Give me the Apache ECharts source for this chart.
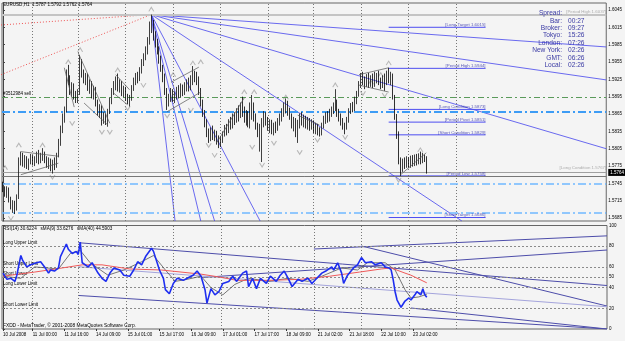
<!DOCTYPE html>
<html>
<head>
<meta charset="utf-8">
<script src="https://cdn.jsdelivr.net/npm/echarts@6/dist/echarts.min.js"></script>
<style>
  html, body { margin: 0; padding: 0; background: #f4f4f4; }
  #main { width: 625px; height: 341px; }
</style>
</head>
<body>
<div id="main"></div>
<script>
// EURUSD H1 bars, [open, close, low, high] in pips above 1.0000
const bars = [
  [5742,5736,5730,5748],[5736,5728,5722,5740],[5728,5735,5720,5740],[5735,5718,5712,5738],
  [5718,5705,5700,5722],[5705,5712,5694,5716],[5712,5700,5692,5715],[5700,5722,5698,5726],
  [5722,5785,5718,5790],[5785,5792,5776,5800],[5792,5780,5774,5798],[5780,5788,5772,5794],
  [5788,5776,5770,5792],[5776,5784,5768,5788],[5784,5790,5778,5796],[5790,5782,5776,5794],
  [5782,5788,5775,5792],[5788,5793,5780,5800],[5793,5784,5778,5803],[5784,5790,5780,5798],
  [5790,5796,5784,5806],[5796,5786,5780,5800],[5786,5778,5772,5792],[5778,5784,5770,5790],
  [5784,5774,5766,5788],[5774,5780,5762,5786],[5780,5776,5768,5790],[5776,5795,5772,5798],
  [5795,5815,5790,5822],[5815,5840,5810,5845],[5840,5855,5832,5866],[5855,5872,5850,5878],
  [5872,5935,5868,5942],[5935,5925,5915,5950],[5925,5905,5898,5932],[5905,5912,5895,5920],
  [5912,5896,5890,5918],[5896,5890,5884,5905],[5890,5900,5884,5908],[5900,5955,5898,5967],
  [5955,5935,5928,5960],[5935,5925,5918,5942],[5925,5930,5915,5936],[5930,5912,5905,5935],
  [5912,5918,5900,5925],[5918,5900,5892,5922],[5900,5908,5890,5914],[5908,5885,5878,5912],
  [5885,5870,5862,5890],[5870,5876,5858,5882],[5876,5852,5845,5880],[5852,5862,5848,5868],
  [5862,5855,5846,5866],[5855,5870,5843,5874],[5870,5888,5865,5893],[5888,5905,5882,5910],
  [5905,5915,5898,5922],[5915,5924,5906,5930],[5924,5910,5904,5935],[5910,5918,5902,5925],
  [5918,5902,5896,5922],[5902,5908,5894,5914],[5908,5895,5888,5912],[5895,5888,5882,5900],
  [5888,5893,5878,5898],[5893,5910,5888,5915],[5910,5922,5905,5928],[5922,5930,5915,5936],
  [5930,5926,5918,5938],[5926,5940,5922,5946],[5940,5955,5935,5960],[5955,5962,5948,5970],
  [5962,5975,5958,5982],[5975,5990,5968,5998],[5990,6015,5985,6025],[6015,6020,6005,6037],
  [6020,6000,5992,6028],[6000,5988,5980,6008],[5988,5975,5968,5995],[5975,5960,5952,5982],
  [5960,5945,5938,5966],[5945,5930,5920,5950],[5930,5905,5898,5935],[5905,5885,5872,5910],
  [5885,5895,5878,5900],[5895,5902,5886,5910],[5902,5892,5886,5908],[5892,5898,5884,5904],
  [5898,5906,5890,5912],[5906,5900,5892,5915],[5900,5910,5894,5918],[5910,5904,5896,5916],
  [5904,5912,5898,5920],[5912,5918,5904,5925],[5918,5910,5904,5928],[5910,5922,5906,5932],
  [5922,5935,5915,5948],[5935,5930,5920,5940],[5930,5925,5915,5938],[5925,5905,5898,5930],
  [5905,5885,5878,5910],[5885,5868,5860,5890],[5868,5850,5842,5872],[5850,5835,5825,5856],
  [5835,5822,5815,5840],[5822,5838,5818,5842],[5838,5826,5820,5845],[5826,5832,5818,5838],
  [5832,5818,5812,5836],[5818,5812,5806,5828],[5812,5822,5808,5826],[5822,5830,5815,5835],
  [5830,5840,5826,5846],[5840,5836,5828,5848],[5836,5850,5832,5856],[5850,5845,5838,5860],
  [5845,5860,5840,5866],[5860,5855,5846,5868],[5855,5868,5850,5875],[5868,5862,5852,5880],
  [5862,5876,5858,5885],[5876,5870,5860,5895],[5870,5858,5850,5878],[5858,5866,5845,5872],
  [5866,5852,5842,5870],[5852,5862,5840,5885],[5862,5878,5855,5898],[5878,5860,5852,5885],
  [5860,5845,5838,5866],[5845,5835,5825,5850],[5835,5840,5800,5848],[5840,5852,5782,5858],
  [5852,5862,5842,5870],[5862,5855,5845,5868],[5855,5842,5836,5860],[5842,5850,5832,5856],
  [5850,5838,5830,5855],[5838,5845,5828,5850],[5845,5840,5832,5852],[5840,5852,5836,5858],
  [5852,5860,5845,5866],[5860,5868,5852,5875],[5868,5875,5860,5885],[5875,5880,5866,5892],
  [5880,5870,5862,5888],[5870,5862,5855,5876],[5862,5848,5840,5866],[5848,5855,5835,5860],
  [5855,5842,5825,5858],[5842,5850,5815,5855],[5850,5860,5840,5866],[5860,5852,5845,5868],
  [5852,5858,5842,5864],[5858,5848,5840,5862],[5848,5855,5838,5860],[5855,5845,5836,5858],
  [5845,5850,5838,5856],[5850,5840,5832,5854],[5840,5845,5830,5850],[5845,5835,5828,5848],
  [5835,5832,5826,5842],[5832,5845,5828,5850],[5845,5855,5840,5862],[5855,5862,5848,5868],
  [5862,5858,5850,5870],[5858,5866,5852,5874],[5866,5872,5860,5878],[5872,5878,5865,5885],
  [5878,5885,5870,5908],[5885,5868,5860,5890],[5868,5860,5852,5874],[5860,5852,5845,5866],
  [5852,5845,5838,5858],[5845,5842,5830,5850],[5842,5855,5838,5860],[5855,5870,5850,5875],
  [5870,5878,5865,5884],[5878,5875,5868,5886],[5875,5888,5870,5895],[5888,5900,5882,5905],
  [5900,5915,5895,5922],[5915,5930,5910,5936],[5930,5922,5915,5938],[5922,5918,5908,5930],
  [5918,5928,5912,5934],[5928,5920,5910,5936],[5920,5926,5912,5932],[5926,5918,5910,5935],
  [5918,5925,5912,5938],[5925,5930,5918,5936],[5930,5922,5915,5940],[5922,5915,5908,5928],
  [5915,5926,5910,5932],[5926,5920,5905,5935],[5920,5932,5915,5940],[5932,5925,5918,5945],
  [5925,5930,5915,5938],[5930,5895,5890,5935],[5895,5860,5855,5898],[5860,5830,5822,5865],
  [5830,5785,5778,5835],[5785,5770,5758,5790],[5770,5782,5765,5788],[5782,5776,5770,5790],
  [5776,5785,5772,5792],[5785,5778,5772,5790],[5778,5786,5772,5793],[5786,5780,5774,5794],
  [5780,5788,5775,5795],[5788,5782,5776,5796],[5782,5790,5778,5797],[5790,5786,5778,5800],
  [5786,5790,5780,5798],[5790,5787,5782,5795],[5787,5764,5762,5792]
];

const timeLabels = ['10 Jul 2008', '11 Jul 00:00', '11 Jul 16:00', '14 Jul 09:00', '15 Jul 01:00',
  '15 Jul 17:00', '16 Jul 09:00', '17 Jul 01:00', '17 Jul 17:00', '18 Jul 09:00', '21 Jul 02:00',
  '21 Jul 18:00', '22 Jul 10:00', '23 Jul 02:00'];
const labelBars = [0, 15, 31, 47, 63, 79, 95, 111, 127, 143, 159, 175, 191, 207];
const dayStartBars = [15, 38, 62, 86, 110, 134, 157, 181, 205, 229];
const priceTicks = [1.6045, 1.6015, 1.5985, 1.5955, 1.5925, 1.5895, 1.5865, 1.5835, 1.5805,
  1.5775, 1.5745, 1.5715, 1.5685];
const rsiTicks = [100, 80, 60, 50, 40, 20, 0];

// RSI(14) and its averages, [bar, value]
const rsiPts = [[0,54],[2,48],[4,49],[6,46],[7,52],[9,71],[10,66],[12,60],[14,62],[17,64],[19,65],
  [21,60],[23,54],[24,57],[26,56],[28,59],[29,70],[31,78],[32,82],[33,77],[35,73],[37,75],[38,72],
  [39,84],[40,64],[43,60],[45,64],[48,54],[50,49],[52,46],[54,54],[56,59],[59,57],[61,52],[64,51],
  [66,57],[68,65],[70,62],[72,70],[75,78],[76,75],[79,57],[81,49],[82,38],[84,34],[86,44],[88,49],
  [91,47],[93,49],[96,52],[98,56],[100,51],[102,38],[103,25],[105,39],[107,33],[109,36],[111,44],
  [114,46],[116,51],[118,46],[121,54],[123,56],[124,41],[126,49],[128,39],[130,49],[133,44],
  [135,51],[138,46],[140,52],[142,56],[144,49],[146,41],[149,48],[151,46],[154,49],[156,44],
  [158,48],[161,54],[163,56],[166,60],[167,57],[169,64],[171,54],[172,44],[174,52],[177,59],
  [179,62],[181,69],[183,64],[186,65],[188,62],[191,64],[193,60],[195,59],[196,57],[197,48],
  [198,36],[199,28],[201,21],[203,27],[205,30],[206,28],[208,33],[209,36],[211,33],[212,39],
  [213,33],[214,30.6]];
const ma9Pts = [[0,51],[9,49],[16,60],[28,58],[34,73],[39,76],[44,64],[53,52],[61,57],[70,65],
  [76,71],[82,57],[87,46],[93,48],[100,51],[105,40],[111,33],[117,43],[124,49],[134,46],[144,49],
  [154,46],[161,51],[171,59],[179,57],[184,64],[193,64],[198,57],[203,38],[206,30],[210,31],[214,33.6]];
const ma40Pts = [[0,51],[16,55],[30,59],[40,62],[50,62],[64,58],[80,57],[100,53],[110,50],[118,47],
  [134,47],[150,48],[165,51],[180,55],[191,58],[196,59],[203,54],[206,52],[214,44.6]];
const rsiLevels = [80, 60, 50, 40, 20];
const rsiLevelNames = ['Long Upper Limit', 'Short Upper Limit', 'Short Lower', 'Long Lower Limit', 'Short Lower Limit'];
// trend lines drawn on the RSI window, [bar, value] ends
const rsiTrendLines = [
  [[38, 83.4], [305, 42]],
  [[38, 32.4], [305, 0]],
  [[157, 77.3], [305, 90]],
  [[100, 49.7], [305, 76.3]],
  [[181, 80.2], [305, 22.2]],
  [[206, 20.3], [305, 0]]
];
const rsiPaleLine = [[38, 60.2], [305, 21.5]];

// price pane objects
const apex = [75, 1.6037];
const fanEnds = [[305, 1.5981], [305, 1.5924], [305, 1.5805], [232, 1.568], [130, 1.568],
  [107, 1.568], [100, 1.568], [87, 1.568]];
const redStarts = [[-1, 1.6019], [-1, 1.5933]];
const levelNames = ['Long Target', 'Period High', 'Long Condition', 'Period Pivot',
  'Short Condition', 'Period Low', 'Short Target'];
const levelPrices = [1.6015, 1.5944, 1.5873, 1.5851, 1.5829, 1.5758, 1.5686];
const levelFrom = 195, levelTo = 244;
const patternLines = [
  [[9,5800],[28,5792]], [[9,5760],[28,5780]],
  [[31,5945],[36,5877]],
  [[38,5971],[54,5849]], [[41,5884],[53,5846]],
  [[57,5933],[64,5907]], [[56,5901],[63,5881]],
  [[85,5920],[99,5946]], [[83,5869],[100,5903]],
  [[108,5815],[122,5893]],
  [[149,5863],[160,5846]],
  [[180,5933],[195,5945]], [[180,5915],[195,5903]],
  [[201,5760],[214,5798]]
];
const fractalUp = [[1,5772],[8,5811],[20,5811],[33,5955],[39,5976],[58,5941],[75,6046],[86,5933],
  [96,5953],[100,5955],[122,5903],[127,5903],[143,5894],[168,5915],[186,5920],[191,5933],
  [195,5953],[211,5803]];
const fractalDown = [[4,5685],[25,5756],[35,5849],[50,5834],[54,5834],[63,5875],[71,5915],
  [83,5862],[95,5872],[104,5811],[107,5794],[126,5808],[131,5777],[137,5815],[150,5799],
  [159,5820],[173,5825],[182,5901],[193,5898],[200,5751]];

const P = v => 1 + v / 10000;
const FONT = 'Liberation Sans';

const chart = echarts.init(document.getElementById('main'));

function seg(pts, axis, color, width, type, z) {
  return {
    type: 'line', xAxisIndex: axis, yAxisIndex: axis, data: pts, symbol: 'none',
    silent: true, animation: false, z: z || 3,
    lineStyle: { color: color, width: width, type: type || 'solid' }
  };
}

const series = [];

// candles + horizontal lines
series.push({
  type: 'candlestick', xAxisIndex: 0, yAxisIndex: 0, silent: true, z: 5,
  data: bars.map((b, i) => [i, P(b[0]), P(b[1]), P(b[2]), P(b[3])]),
  encode: { x: 0, y: [1, 2, 3, 4] },
  barWidth: 1.3,
  itemStyle: { color: '#ffffff', color0: '#000000', borderColor: '#111', borderColor0: '#000', borderWidth: 0.8 },
  markLine: {
    silent: true, symbol: ['none', 'none'], animation: false, precision: 4,
    label: { show: false },
    data: [
      ...dayStartBars.map(b => ({ xAxis: b, lineStyle: { color: '#777', type: [1, 2], width: 1 } })),
      { yAxis: 1.6037, lineStyle: { color: '#c4c4c4', type: 'solid', width: 2 } },
      { yAxis: 1.5758, lineStyle: { color: '#777', type: 'solid', width: 1 } },
      { yAxis: 1.5894, lineStyle: { color: '#5a9a5a', type: [6, 3, 2, 3], width: 1 },
        label: { show: true, position: 'insideStartTop', formatter: '#3512984 sell', fontSize: 4.5,
          fontFamily: FONT, color: '#000', distance: 1 } },
      { yAxis: 1.5869, lineStyle: { color: '#3d9cf5', type: [8, 3, 2, 3], width: 2 } },
      { yAxis: 1.5744, lineStyle: { color: '#6fb8ff', type: [8, 3, 2, 3], width: 1.5 } },
      { yAxis: 1.5694, lineStyle: { color: '#6fb8ff', type: [8, 3, 2, 3], width: 1.5 } },
      { yAxis: 1.5764, lineStyle: { color: '#a0a0a0', type: 'solid', width: 1 },
        label: { show: true, position: 'end', formatter: '1.5764', backgroundColor: '#000',
          color: '#fff', fontSize: 4.5, fontFamily: FONT, padding: [1, 2], distance: 2 } }
    ]
  }
});

redStarts.forEach(s => series.push(seg([s, apex], 0, '#ee5555', 1, [1, 2], 4)));
fanEnds.forEach(e => series.push(seg([apex, e], 0, 'rgba(72,72,238,0.9)', 0.9, 'solid', 4)));
patternLines.forEach(l => series.push(seg(l.map(p => [p[0], P(p[1])]), 0, '#555', 0.7, 'solid', 6)));
levelPrices.forEach(p => series.push(seg([[levelFrom, p], [levelTo, p]], 0, '#4d4df0', 1, 'solid', 4)));

// text labels placed on the price scale
const textMarks = levelPrices.map((p, k) => [levelTo, p, '[' + levelNames[k] + ' ' + p.toFixed(4) + ']', '#2f2fa8']);
textMarks.push([305, 1.5767, '[Long Condition 1.5767]', '#9a9a9a']);
textMarks.push([305, 1.6037, '[Period High 1.6037]', '#9a9a9a']);
series.push({
  type: 'scatter', xAxisIndex: 0, yAxisIndex: 0, symbolSize: 0, silent: true, z: 7,
  data: textMarks.map(t => ({ value: [t[0], t[1]], name: t[2],
    label: { color: t[3] } })),
  label: { show: true, position: 'top', align: 'right', distance: 0.5, formatter: '{b}',
    fontSize: 4.4, fontFamily: FONT }
});

// fractal markers
series.push({
  type: 'scatter', xAxisIndex: 0, yAxisIndex: 0, silent: true, z: 4,
  data: fractalUp.map(f => [f[0], P(f[1])]),
  symbol: 'path://M0,10 L5,0 L10,10', symbolSize: [5, 4],
  itemStyle: { color: 'none', borderColor: '#a8a8a8', borderWidth: 1 }
});
series.push({
  type: 'scatter', xAxisIndex: 0, yAxisIndex: 0, silent: true, z: 4,
  data: fractalDown.map(f => [f[0], P(f[1])]),
  symbol: 'path://M0,0 L5,10 L10,0', symbolSize: [5, 4],
  itemStyle: { color: 'none', borderColor: '#a8a8a8', borderWidth: 1 }
});

// RSI pane
series.push({
  type: 'line', xAxisIndex: 1, yAxisIndex: 1, data: rsiPts, symbol: 'none', silent: true, z: 6,
  lineStyle: { color: '#1e2ef0', width: 1.6 },
  markLine: {
    silent: true, symbol: ['none', 'none'], animation: false,
    data: [
      ...dayStartBars.map(b => ({ xAxis: b, label: { show: false },
        lineStyle: { color: '#777', type: [1, 2], width: 1 } })),
      ...rsiLevels.map((v, k) => ({ yAxis: v, name: rsiLevelNames[k],
        lineStyle: { color: '#8a8a8a', type: [2, 2], width: 1 },
        label: { show: true, position: 'insideStartTop', formatter: '{b}', fontSize: 4.5,
          fontFamily: FONT, color: '#000', distance: 1 } }))
    ]
  }
});
series.push(seg(ma9Pts, 1, '#555', 0.8, 'solid', 5));
series.push(seg(ma40Pts, 1, '#f05a5a', 1, 'solid', 5));
rsiTrendLines.forEach(l => series.push(seg(l, 1, '#4d4daa', 1, 'solid', 4)));
series.push(seg(rsiPaleLine, 1, '#a4a4dc', 1, 'solid', 4));

const infoKeys = ['Spread:', 'Bar:', 'Broker:', 'Tokyo:', 'London:', 'New York:', 'GMT:', 'Local:'];
const infoVals = ['', '00:27', '09:27', '15:26', '07:26', '02:26', '06:26', '02:26'];
const graphics = [];
infoKeys.forEach((k, r) => {
  graphics.push({ type: 'text', x: 562, y: 13.3 + r * 7.4, z: 20,
    style: { text: k, align: 'right', verticalAlign: 'middle', fontSize: 6.6, fontFamily: FONT, fill: '#3a3aa4' } });
  graphics.push({ type: 'text', x: 568, y: 13.3 + r * 7.4, z: 20,
    style: { text: infoVals[r], align: 'left', verticalAlign: 'middle', fontSize: 6.6, fontFamily: FONT, fill: '#3a3aa4' } });
});
graphics.push({ type: 'text', x: 3, y: 5, style: { text: 'EURUSD,H1  1.5787 1.5792 1.5762 1.5764',
  verticalAlign: 'middle', fontSize: 4.6, fontFamily: FONT, fill: '#000' } });
graphics.push({ type: 'text', x: 3, y: 229, style: { text: 'RSI(14) 30.6224   sMA(9) 33.6276   sMA(40) 44.5903',
  verticalAlign: 'middle', fontSize: 4.6, fontFamily: FONT, fill: '#000' } });
graphics.push({ type: 'text', x: 3, y: 326, style: { text: 'FXDD - MetaTrader, \u00a9 2001-2008 MetaQuotes Software Corp.',
  verticalAlign: 'middle', fontSize: 4.8, fontFamily: FONT, fill: '#000' } });

function xAxisFor(idx, showLabels) {
  return {
    type: 'value', gridIndex: idx, min: -0.5, max: 305, splitLine: { show: false },
    axisLine: { show: false },
    axisTick: showLabels ? { show: true, customValues: labelBars, length: 2, lineStyle: { color: '#333' } } : { show: false },
    axisLabel: showLabels ? {
      show: true, customValues: labelBars, fontSize: 4.5, fontFamily: FONT, color: '#000',
      align: 'left', margin: 3,
      formatter: v => timeLabels[labelBars.indexOf(v)]
    } : { show: false }
  };
}

chart.setOption({
  animation: false,
  backgroundColor: '#f4f4f4',
  grid: [
    { left: 2, right: 18, top: 3, height: 218, show: true, borderColor: '#666', borderWidth: 1 },
    { left: 2, right: 18, top: 225.5, height: 103.5, show: true, borderColor: '#666', borderWidth: 1 }
  ],
  xAxis: [xAxisFor(0, false), xAxisFor(1, true)],
  yAxis: [
    { type: 'value', gridIndex: 0, position: 'right', min: 1.568, max: 1.6057, splitLine: { show: false },
      axisLine: { show: true, lineStyle: { color: '#444' } },
      axisTick: { show: true, customValues: priceTicks, length: 2, lineStyle: { color: '#444' } },
      axisLabel: { customValues: priceTicks, fontSize: 4.5, fontFamily: FONT, color: '#000', margin: 2,
        formatter: v => v.toFixed(4) } },
    { type: 'value', gridIndex: 1, position: 'right', min: 0, max: 100, splitLine: { show: false },
      axisLine: { show: true, lineStyle: { color: '#444' } },
      axisTick: { show: true, customValues: rsiTicks, length: 2, lineStyle: { color: '#444' } },
      axisLabel: { customValues: rsiTicks, fontSize: 4.5, fontFamily: FONT, color: '#000', margin: 2 } }
  ],
  graphic: graphics,
  series: series
});
</script>
</body>
</html>
